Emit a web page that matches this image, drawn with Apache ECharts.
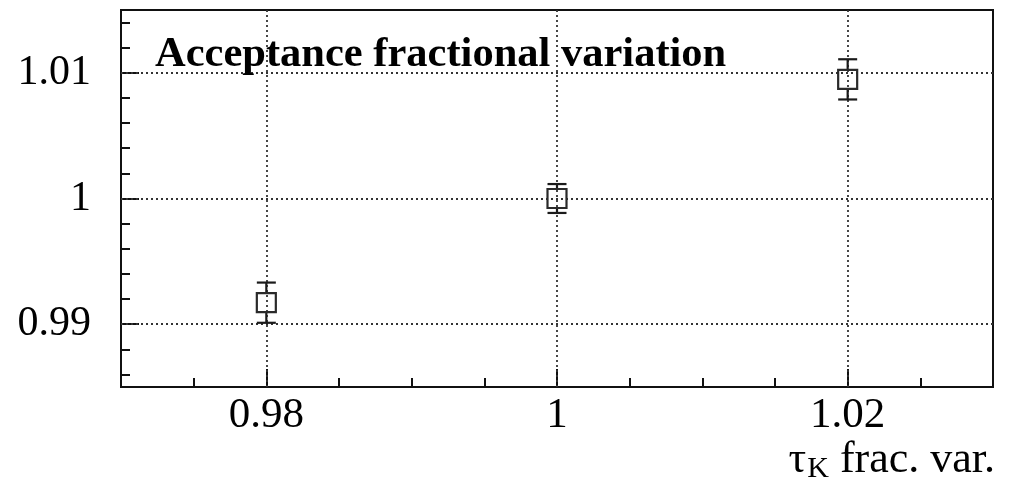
<!DOCTYPE html>
<html>
<head>
<meta charset="utf-8">
<script src="https://cdn.jsdelivr.net/npm/echarts@6/dist/echarts.min.js"></script>
<style>
html,body{margin:0;padding:0;background:#fff;}
#chart{width:1009px;height:489px;}
</style>
</head>
<body>
<div id="chart"></div>
<script>
// ---- data ----
const xValues = [0.98, 1.0, 1.02];
const yValues = [0.99171, 1.0, 1.00948];
const yErrors = [0.0016, 0.00115, 0.0016];

const xMajorTicks = [0.98, 1, 1.02];
const xMinorTicks = [0.975, 0.985, 0.99, 0.995, 1.005, 1.01, 1.015, 1.025];
const yMajorTicks = [0.99, 1, 1.01];
const yMinorTicks = [0.986, 0.988, 0.992, 0.994, 0.996, 0.998, 1.002, 1.004, 1.006, 1.008, 1.012, 1.014];
const xRange = [0.97, 1.03];
const yRange = [0.985, 1.015];

const titleText = 'Acceptance fractional variation';
const xTitleMain = 'τ';
const xTitleSub = 'K';
const xTitleRest = ' frac. var.';

// ---- chart ----
const chart = echarts.init(document.getElementById('chart'), null, {renderer: 'canvas'});
const FONT = '"Liberation Serif", "Times New Roman", serif';
const INK = '#111';

function fmt(v) { return String(parseFloat(v.toFixed(4))); }

const points = xValues.map((x, i) => [x, yValues[i], yErrors[i]]);

const option = {
  animation: false,
  backgroundColor: '#fff',
  title: [
    {
      text: titleText,
      left: 155, top: 34, padding: 0,
      textStyle: {fontFamily: FONT, fontWeight: 'bold', fontSize: 42.5, color: '#000'}
    },
    {
      text: '{m|' + xTitleMain + '}{s|' + xTitleSub + '}{r|' + xTitleRest + '}',
      right: 14, top: 436, padding: 0,
      textStyle: {
        fontWeight: 'normal',
        rich: {
          m: {fontFamily: FONT, fontSize: 44, fontWeight: 'normal', color: '#000'},
          s: {fontFamily: FONT, fontSize: 30, fontWeight: 'normal', color: '#000', verticalAlign: 'bottom', padding: [18, 0, 0, 1]},
          r: {fontFamily: FONT, fontSize: 44, fontWeight: 'normal', color: '#000'}
        }
      }
    }
  ],
  grid: {
    left: 121, right: 16, top: 10, bottom: 102,
    show: true, borderColor: INK, borderWidth: 2, backgroundColor: 'transparent',
    containLabel: false
  },
  xAxis: [
    {
      type: 'value', position: 'bottom', min: xRange[0], max: xRange[1],
      axisLine: {show: true, onZero: false, lineStyle: {color: INK, width: 2}},
      axisTick: {show: true, inside: true, length: 18, customValues: xMajorTicks, lineStyle: {color: INK, width: 2}},
      axisLabel: {show: true, customValues: xMajorTicks, margin: 7, formatter: fmt,
        fontFamily: FONT, fontSize: 43, color: '#000'},
      splitLine: {show: false}
    },
    {
      type: 'value', position: 'bottom', min: xRange[0], max: xRange[1],
      axisLine: {show: false, onZero: false},
      axisTick: {show: true, inside: true, length: 9, customValues: xMinorTicks, lineStyle: {color: INK, width: 2}},
      axisLabel: {show: false},
      splitLine: {show: false}
    }
  ],
  yAxis: [
    {
      type: 'value', position: 'left', min: yRange[0], max: yRange[1],
      axisLine: {show: true, onZero: false, lineStyle: {color: INK, width: 2}},
      axisTick: {show: true, inside: true, length: 18, customValues: yMajorTicks, lineStyle: {color: INK, width: 2}},
      axisLabel: {show: true, customValues: yMajorTicks, margin: 30, formatter: fmt,
        fontFamily: FONT, fontSize: 42, color: '#000'},
      splitLine: {show: false}
    },
    {
      type: 'value', position: 'left', min: yRange[0], max: yRange[1],
      axisLine: {show: false, onZero: false},
      axisTick: {show: true, inside: true, length: 9, customValues: yMinorTicks, lineStyle: {color: INK, width: 2}},
      axisLabel: {show: false},
      splitLine: {show: false}
    }
  ],
  series: [
    {
      type: 'custom',
      xAxisIndex: 0, yAxisIndex: 0,
      data: points,
      clip: false,
      z: 5,
      renderItem: function (params, api) {
        const x = api.value(0), y = api.value(1), e = api.value(2);
        const c = api.coord([x, y]);
        const t = api.coord([x, y + e]);
        const b = api.coord([x, y - e]);
        const h = 9.5, cap = 9.5;
        const st = {stroke: '#1a1a1a', lineWidth: 2.2, fill: null};
        return {
          type: 'group',
          children: [
            {type: 'line', shape: {x1: c[0], y1: t[1], x2: c[0], y2: c[1] - h}, style: st},
            {type: 'line', shape: {x1: c[0], y1: c[1] + h, x2: c[0], y2: b[1]}, style: st},
            {type: 'line', shape: {x1: c[0] - cap, y1: t[1], x2: c[0] + cap, y2: t[1]}, style: st},
            {type: 'line', shape: {x1: c[0] - cap, y1: b[1], x2: c[0] + cap, y2: b[1]}, style: st},
            {type: 'rect', shape: {x: c[0] - h, y: c[1] - h, width: 2 * h, height: 2 * h},
              style: {stroke: '#2a2a2a', lineWidth: 2.2, fill: 'none'}}
          ]
        };
      },
      markLine: {
        silent: true,
        symbol: 'none',
        label: {show: false},
        animation: false,
        lineStyle: {color: '#333', width: 1.8, type: [2, 3]},
        data: xMajorTicks.map(v => ({xAxis: v})).concat(yMajorTicks.map(v => ({yAxis: v})))
      }
    }
  ]
};
chart.setOption(option);
</script>
</body>
</html>
